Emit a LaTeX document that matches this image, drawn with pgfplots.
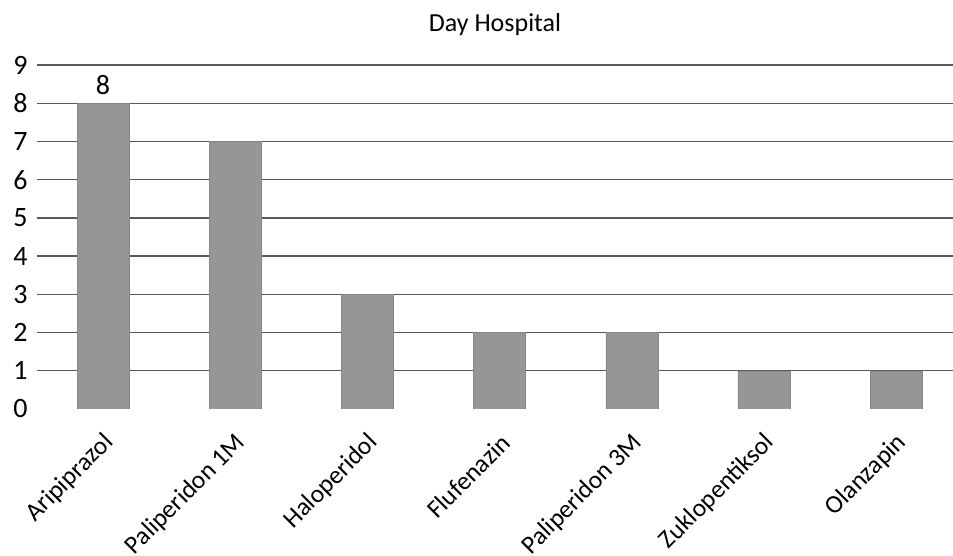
\documentclass[border=0pt]{standalone}
\usepackage{pgfplots}
\pgfplotsset{compat=1.18}
\usepackage{fontspec}
\setmainfont{Carlito}
\definecolor{barg}{HTML}{969696}
\definecolor{gridg}{HTML}{595959}
\begin{document}
\begin{tikzpicture}[x=1pt,y=1pt]
\useasboundingbox (-37,-147) rectangle (916,409);
\begin{axis}[
  at={(0,0)}, anchor=south west,
  scale only axis, width=916pt, height=344pt,
  xmin=-0.5, xmax=6.43, ymin=0, ymax=9,
  ybar, bar width=52pt,
  axis line style={draw=none}, tick style={draw=none},
  ytick={1,...,9}, extra y ticks={0}, extra y tick style={grid=none},
  ymajorgrids, grid style={gridg, line width=1.3pt},
  xtick={0,...,6},
  xticklabels={Aripiprazol,Paliperidon 1M,Haloperidol,Flufenazin,Paliperidon 3M,Zuklopentiksol,Olanzapin},
  xticklabel style={rotate=45, anchor=east, font=\fontsize{25.5}{30}\selectfont, xshift=-10pt, yshift=-22.5pt},
  yticklabel style={font=\fontsize{28}{32}\selectfont, xshift=-6pt},
  /pgf/number format/assume math mode=true,
  title={Day Hospital}, title style={font=\fontsize{26}{30}\selectfont, at={(0.5,1)}, anchor=base, yshift=27pt},
]
\addplot[fill=barg, draw=barg!90!black, bar shift=0pt] coordinates {(0,8) (1,7) (2,3) (3,2) (4,2) (5,1) (6,1)};
\addplot[draw=none, fill=none, bar shift=0pt, nodes near coords, every node near coord/.style={font=\fontsize{28}{32}\selectfont, black, yshift=5pt}] coordinates {(0,8)};
\end{axis}
\end{tikzpicture}
\end{document}
